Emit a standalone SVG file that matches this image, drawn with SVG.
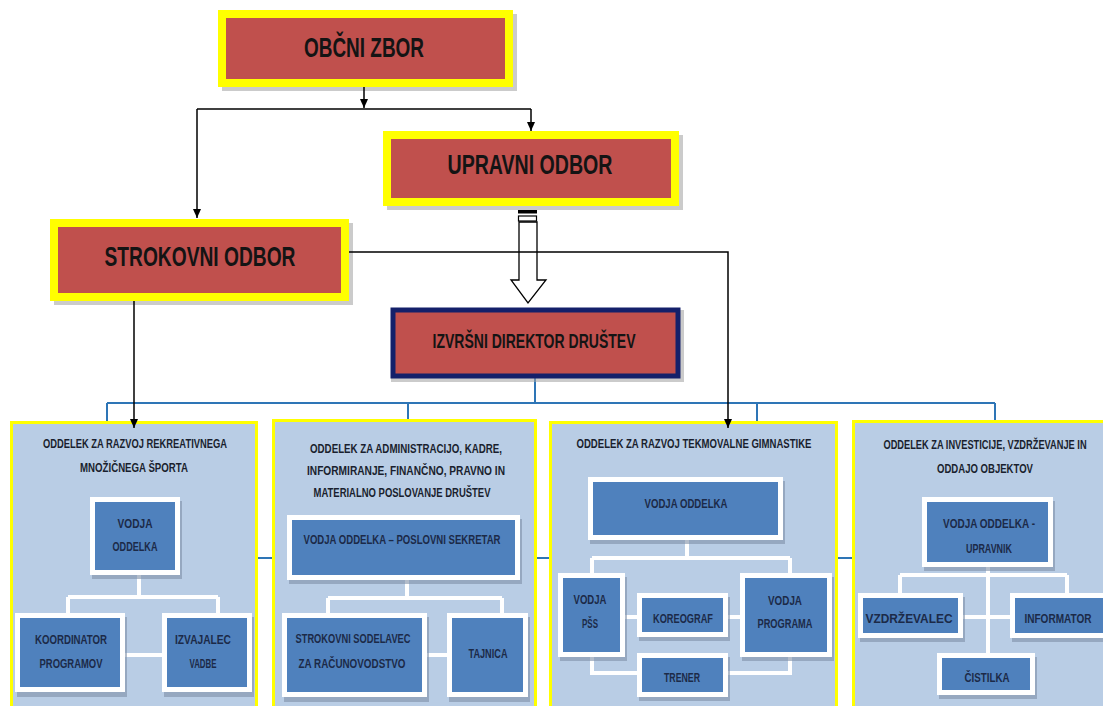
<svg xmlns="http://www.w3.org/2000/svg" width="1103" height="706" viewBox="0 0 1103 706">
<defs>
<marker id="ah" markerWidth="10" markerHeight="10" refX="9" refY="5" orient="auto" markerUnits="userSpaceOnUse">
<path d="M0,1 L9,5 L0,9 Z" fill="#000"/>
</marker>
<style>
.top{fill:#c0504d;stroke:#ffff00;stroke-width:8}
.sh{fill:#a0a0a0;opacity:0.55}
.tt{font-family:"Liberation Sans",Arial,sans-serif;font-weight:bold;fill:#141414;text-anchor:middle}
.panel{fill:#b9cde5;stroke:#ffff00;stroke-width:3}
.ib{fill:#4f81bd;stroke:#ffffff;stroke-width:5}
.ish{fill:#7f8fa6;opacity:0.6}
.pt{font-family:"Liberation Sans",Arial,sans-serif;font-weight:bold;font-size:12.5px;fill:#1a1f2e;text-anchor:middle}
.bt{font-family:"Liberation Sans",Arial,sans-serif;font-weight:bold;font-size:13.5px;fill:#1c2a48;text-anchor:middle}
.wl{fill:none;stroke:#ffffff;stroke-width:4}
.bl{fill:none;stroke:#2e75b6;stroke-width:2}
.kl{fill:none;stroke:#000;stroke-width:1.5}
</style>
</defs>
<rect width="1103" height="706" fill="#ffffff"/>

<!-- blue connectors (behind panels) -->
<g id="blue-connectors">
<path class="bl" d="M535,378 V403 M107,403 H995 M107,403 V422 M408,403 V420 M757,403 V422 M995,403 V422"/>
<path class="bl" d="M240,558 H870"/>
</g>

<!-- top nodes -->
<g id="obcni-zbor">
<rect class="sh" x="222" y="14" width="295" height="77"/>
<rect class="top" x="222" y="14" width="287" height="69"/>
<text class="tt" x="364" y="57" font-size="28" textLength="120" lengthAdjust="spacingAndGlyphs">OBČNI ZBOR</text>
</g>
<g id="upravni-odbor">
<rect class="sh" x="387" y="135" width="296" height="75"/>
<rect class="top" x="387" y="135" width="288" height="67"/>
<text class="tt" x="530" y="174" font-size="27" textLength="165" lengthAdjust="spacingAndGlyphs">UPRAVNI ODBOR</text>
</g>
<g id="strokovni-odbor">
<rect class="sh" x="54" y="223" width="299" height="82"/>
<rect class="top" x="54" y="223" width="291" height="74"/>
<text class="tt" x="200" y="266" font-size="28" textLength="191" lengthAdjust="spacingAndGlyphs">STROKOVNI ODBOR</text>
</g>
<g id="izvrsni-direktor">
<rect class="sh" x="391" y="310" width="293" height="72"/>
<rect x="393" y="310" width="285" height="66" fill="#c0504d" stroke="#14206a" stroke-width="5"/>
<text class="tt" x="534" y="348" font-size="20" textLength="203" lengthAdjust="spacingAndGlyphs">IZVRŠNI DIREKTOR DRUŠTEV</text>
</g>

<!-- hollow arrow UPRAVNI -> IZVRSNI -->
<g id="hollow-arrow">
<rect x="518" y="210" width="19" height="3.5" fill="#000"/>
<rect x="518.5" y="216" width="18" height="5" fill="#fff" stroke="#000" stroke-width="1.2"/>
<path d="M519,222 H537 V280 H546 L528,303 L511,280 H519 Z" fill="#fff" stroke="#000" stroke-width="1.3"/>
</g>

<!-- departments -->
<g id="oddelek-1">
<rect class="panel" x="11.5" y="422.5" width="245" height="300"/>
<text class="pt" x="135" y="448" textLength="184" lengthAdjust="spacingAndGlyphs">ODDELEK ZA RAZVOJ REKREATIVNEGA</text>
<text class="pt" x="134" y="472" textLength="108" lengthAdjust="spacingAndGlyphs">MNOŽIČNEGA ŠPORTA</text>
<path class="wl" d="M139,575 V597 M68,597 H218 M68,597 V613 M218,597 V613 M125,655 H162"/>
<rect class="ish" x="92" y="501" width="90" height="78"/>
<rect class="ib" x="92.5" y="499.5" width="85" height="73"/>
<text class="bt" x="135" y="528" textLength="35" lengthAdjust="spacingAndGlyphs">VODJA</text>
<text class="bt" x="135" y="551" textLength="45" lengthAdjust="spacingAndGlyphs">ODDELKA</text>
<rect class="ish" x="17" y="617" width="110" height="80"/>
<rect class="ib" x="17.5" y="615.5" width="105" height="74"/>
<text class="bt" x="71" y="644" textLength="72" lengthAdjust="spacingAndGlyphs">KOORDINATOR</text>
<text class="bt" x="71" y="668" textLength="63" lengthAdjust="spacingAndGlyphs">PROGRAMOV</text>
<rect class="ish" x="164" y="617" width="90" height="80"/>
<rect class="ib" x="164.5" y="615.5" width="85" height="74"/>
<text class="bt" x="203" y="644" textLength="56" lengthAdjust="spacingAndGlyphs">IZVAJALEC</text>
<text class="bt" x="203" y="668" textLength="27" lengthAdjust="spacingAndGlyphs">VADBE</text>
</g>

<g id="oddelek-2">
<rect class="panel" x="273.5" y="420.5" width="262" height="302"/>
<text class="pt" x="406" y="453" textLength="192" lengthAdjust="spacingAndGlyphs">ODDELEK ZA ADMINISTRACIJO, KADRE,</text>
<text class="pt" x="406" y="475" textLength="198" lengthAdjust="spacingAndGlyphs">INFORMIRANJE, FINANČNO, PRAVNO IN</text>
<text class="pt" x="402" y="497" textLength="177" lengthAdjust="spacingAndGlyphs">MATERIALNO POSLOVANJE DRUŠTEV</text>
<path class="wl" d="M407,580 V598 M328,598 H502 M328,598 V613 M502,598 V613 M427,655 H447"/>
<rect class="ish" x="289" y="519" width="233" height="65"/>
<rect class="ib" x="289.5" y="517.5" width="228" height="60"/>
<text class="bt" x="402" y="544" textLength="197" lengthAdjust="spacingAndGlyphs">VODJA ODDELKA – POSLOVNI SEKRETAR</text>
<rect class="ish" x="284" y="617" width="145" height="85"/>
<rect class="ib" x="284.5" y="615.5" width="140" height="79"/>
<text class="bt" x="353" y="643" textLength="115" lengthAdjust="spacingAndGlyphs">STROKOVNI SODELAVEC</text>
<text class="bt" x="352" y="668" textLength="107" lengthAdjust="spacingAndGlyphs">ZA RAČUNOVODSTVO</text>
<rect class="ish" x="449" y="617" width="81" height="85"/>
<rect class="ib" x="449.5" y="615.5" width="76" height="79"/>
<text class="bt" x="488" y="658" textLength="39" lengthAdjust="spacingAndGlyphs">TAJNICA</text>
</g>

<g id="oddelek-3">
<rect class="panel" x="550.5" y="422.5" width="286" height="300"/>
<text class="pt" x="694" y="448" textLength="235" lengthAdjust="spacingAndGlyphs">ODDELEK ZA RAZVOJ TEKMOVALNE GIMNASTIKE</text>
<path class="wl" d="M687,540 V558 M592,558 H790 M592,558 V573 M790,558 V573 M625,617 H637 M728,617 H740 M592,657 V673 H637 M790,657 V673 H728"/>
<rect class="ish" x="590" y="481" width="195" height="63"/>
<rect class="ib" x="590.5" y="479.5" width="190" height="58"/>
<text class="bt" x="686" y="508" textLength="83" lengthAdjust="spacingAndGlyphs">VODJA ODDELKA</text>
<rect class="ish" x="560" y="577" width="67" height="84"/>
<rect class="ib" x="560.5" y="575.5" width="62" height="79"/>
<text class="bt" x="590" y="604" textLength="33" lengthAdjust="spacingAndGlyphs">VODJA</text>
<text class="bt" x="590" y="628" textLength="16" lengthAdjust="spacingAndGlyphs">PŠS</text>
<rect class="ish" x="639" y="597" width="91" height="44"/>
<rect class="ib" x="639.5" y="595.5" width="86" height="39"/>
<text class="bt" x="683" y="623" textLength="60" lengthAdjust="spacingAndGlyphs">KOREOGRAF</text>
<rect class="ish" x="742" y="577" width="92" height="84"/>
<rect class="ib" x="742.5" y="575.5" width="87" height="79"/>
<text class="bt" x="785" y="605" textLength="34" lengthAdjust="spacingAndGlyphs">VODJA</text>
<text class="bt" x="785" y="628" textLength="55" lengthAdjust="spacingAndGlyphs">PROGRAMA</text>
<rect class="ish" x="639" y="657" width="91" height="44"/>
<rect class="ib" x="639.5" y="655.5" width="86" height="39"/>
<text class="bt" x="682" y="682" textLength="36" lengthAdjust="spacingAndGlyphs">TRENER</text>
</g>

<g id="oddelek-4">
<rect class="panel" x="853.5" y="421.5" width="260" height="300"/>
<text class="pt" transform="translate(985,449) scale(0.736,1)" x="0" y="0" textLength="276" lengthAdjust="spacingAndGlyphs">ODDELEK ZA INVESTICIJE, VZDRŽEVANJE IN</text>
<text class="pt" x="985" y="473" textLength="96" lengthAdjust="spacingAndGlyphs">ODDAJO OBJEKTOV</text>
<path class="wl" d="M988,567 V653 M900,575 H1067 M900,575 V593 M1067,575 V593 M963,617 H1010"/>
<rect class="ish" x="924" y="501" width="131" height="70"/>
<rect class="ib" x="924.5" y="499.5" width="126" height="65"/>
<text class="bt" x="989" y="528" textLength="92" lengthAdjust="spacingAndGlyphs">VODJA ODDELKA -</text>
<text class="bt" x="989" y="553" textLength="46" lengthAdjust="spacingAndGlyphs">UPRAVNIK</text>
<rect class="ish" x="860" y="597" width="105" height="45"/>
<rect class="ib" x="860.5" y="595.5" width="100" height="40"/>
<text class="bt" x="909" y="623" textLength="87" lengthAdjust="spacingAndGlyphs">VZDRŽEVALEC</text>
<rect class="ish" x="1012" y="597" width="96" height="45"/>
<rect class="ib" x="1012.5" y="595.5" width="96" height="40"/>
<text class="bt" transform="translate(1058,623) scale(0.73,1)" x="0" y="0" textLength="92" lengthAdjust="spacingAndGlyphs">INFORMATOR</text>
<rect class="ish" x="939" y="657" width="98" height="42"/>
<rect class="ib" x="939.5" y="655.5" width="93" height="37"/>
<text class="bt" x="987" y="682" textLength="45" lengthAdjust="spacingAndGlyphs">ČISTILKA</text>
</g>

<!-- black connectors -->
<g id="connectors">
<path class="kl" d="M364,87 V108" marker-end="url(#ah)"/>
<path class="kl" d="M197,109 H531"/>
<path class="kl" d="M197,109 V218" marker-end="url(#ah)"/>
<path class="kl" d="M531,109 V131" marker-end="url(#ah)"/>
<path class="kl" d="M349,252 H728 V428" marker-end="url(#ah)"/>
<path class="kl" d="M134,301 V428" marker-end="url(#ah)"/>
</g>
</svg>
